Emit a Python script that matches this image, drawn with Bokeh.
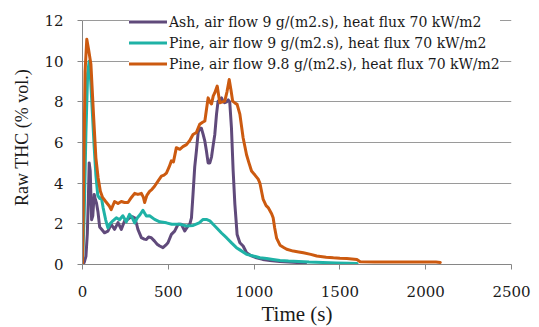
from bokeh.plotting import figure
from bokeh.models import Legend, LegendItem, FixedTicker
from bokeh.embed import file_html
from bokeh.resources import INLINE

# ---- data ----
ash_t = [0, 10, 20, 28, 34, 39, 45, 53, 60, 68, 75, 82, 90, 100, 110, 128, 148, 167, 187, 207,
         226, 245, 260, 275, 290, 304, 315, 323, 343, 360, 372, 385, 401, 420, 435, 450, 469, 485,
         498, 518, 537, 557, 576, 596, 615, 625, 635, 644, 654, 664, 674, 683, 693, 703, 713, 722,
         732, 742, 752, 762, 771, 781, 790, 800, 810, 820, 829, 839, 849, 858, 868, 878, 888, 901,
         917, 936, 956, 985, 1014, 1050, 1092, 1150, 1200, 1250, 1300]
ash_v = [0, 0.1, 0.4, 1.5, 3.2, 5.0, 4.6, 2.2, 2.4, 3.45, 3.2, 3.0, 2.6, 1.85, 1.75, 1.56, 1.64,
         1.98, 1.73, 2.06, 1.73, 2.14, 2.2, 2.3, 2.35, 2.3, 2.0, 1.73, 1.32, 1.25, 1.23, 1.35, 1.32,
         1.15, 1.0, 0.91, 0.83, 0.95, 1.07, 1.48, 1.64, 1.98, 1.98, 1.65, 1.9, 1.98, 2.3, 3.45, 4.8,
         5.6, 6.5, 6.7, 6.7, 6.4, 6.07, 5.6, 5.0, 5.0, 5.3, 5.9, 6.4, 7.4, 8.04, 8.1, 8.2, 8.0, 7.96,
         8.0, 8.1, 8.0, 6.73, 4.6, 2.96, 1.48, 1.07, 0.91, 0.58, 0.42, 0.33, 0.25, 0.2, 0.15, 0.12,
         0.1, 0.08]

pine9_t = [0, 10, 20, 30, 39, 48, 58, 68, 78, 89, 100, 110, 120, 135, 148, 160, 177, 197, 216,
           235, 255, 274, 290, 304, 320, 335, 352, 372, 391, 420, 450, 489, 520, 567, 606, 645,
           680, 703, 722, 742, 761, 781, 810, 839, 870, 897, 917, 956, 995, 1034, 1073, 1110,
           1151, 1200, 1260, 1320, 1400, 1480, 1550, 1600]
pine9_v = [0, 2.5, 6.5, 9.4, 10.0, 9.0, 7.4, 5.8, 4.4, 3.4, 3.25, 3.3, 2.8, 2.2, 1.8, 2.0, 2.15,
           2.3, 2.2, 2.4, 2.1, 2.47, 2.3, 2.05, 2.3, 2.45, 2.67, 2.39, 2.4, 2.22, 2.1, 2.05, 1.98,
           1.98, 1.9, 1.92, 2.05, 2.22, 2.22, 2.15, 1.98, 1.81, 1.55, 1.32, 1.05, 0.83, 0.72, 0.5,
           0.42, 0.33, 0.29, 0.25, 0.2, 0.17, 0.15, 0.12, 0.1, 0.08, 0.06, 0.05]

pine98_t = [0, 8, 15, 25, 35, 49, 64, 78, 91, 104, 117, 135, 156, 167, 187, 207, 226, 245, 265,
            285, 304, 323, 343, 355, 362, 375, 391, 405, 420, 440, 460, 475, 489, 505, 518, 530,
            547, 567, 585, 606, 625, 644, 664, 683, 700, 713, 722, 732, 742, 752, 762, 771, 785,
            800, 815, 829, 842, 855, 865, 875, 888, 901, 917, 936, 956, 970, 985, 1005, 1024,
            1034, 1053, 1070, 1082, 1102, 1111, 1120, 1131, 1151, 1170, 1190, 1228, 1260, 1287,
            1330, 1365, 1420, 1462, 1500, 1540, 1599, 1618, 1700, 1800, 1900, 2000, 2060, 2085]
pine98_v = [0, 5.0, 9.5, 11.08, 10.6, 9.85, 7.4, 5.25, 4.27, 3.6, 3.3, 3.1, 2.88, 2.7, 3.1, 3.0,
            3.1, 3.05, 3.05, 3.3, 3.5, 3.45, 3.5, 3.3, 3.05, 3.4, 3.6, 3.7, 3.85, 4.1, 4.35, 4.4,
            4.5, 4.8, 5.1, 5.05, 5.75, 5.67, 5.8, 5.9, 6.1, 6.4, 6.5, 6.9, 7.0, 7.06, 7.6, 8.2,
            8.0, 7.9, 8.3, 8.45, 8.78, 7.96, 8.0, 8.04, 8.5, 9.1, 8.6, 8.04, 7.95, 7.88, 7.4, 6.24,
            5.4, 5.0, 4.6, 4.4, 4.2, 4.0, 3.2, 2.9, 2.8, 2.5, 2.3, 1.8, 1.3, 0.95, 0.85, 0.75,
            0.66, 0.62, 0.58, 0.5, 0.42, 0.36, 0.33, 0.31, 0.3, 0.25, 0.14, 0.12, 0.12, 0.12,
            0.12, 0.12, 0.1]

series_labels = ["Ash, air flow 9 g/(m2.s), heat flux 70 kW/m2",
                 "Pine, air flow 9 g/(m2.s), heat flux 70 kW/m2",
                 "Pine, air flow 9.8 g/(m2.s), heat flux 70 kW/m2"]
series_colors = ["#604A7B", "#1FB2A6", "#CC5A10"]
x_ticks = [0, 500, 1000, 1500, 2000, 2500]
y_ticks = [0, 2, 4, 6, 8, 10, 12]

TICK_FONT = "DejaVu Serif"
LABEL_FONT = "Liberation Serif"

p = figure(frame_width=429, frame_height=254, x_range=(0, 2500), y_range=(0, 12.5),
           min_border_left=82, min_border_top=10, min_border_right=28, min_border_bottom=63,
           output_backend="svg", toolbar_location=None, background_fill_color="white",
           border_fill_color="white")
p.outline_line_color = None

renderers = []
for t, v, c in zip([ash_t, pine9_t, pine98_t], [ash_v, pine9_v, pine98_v], series_colors):
    r = p.line(t, v, line_color=c, line_width=3, line_join="round", line_cap="round")
    renderers.append(r)

for ax in (p.xaxis[0], p.yaxis[0]):
    ax.axis_line_color = "#868686"
    ax.major_tick_line_color = "#868686"
    ax.major_tick_out = 5
    ax.major_tick_in = 0
    ax.minor_tick_line_color = None
    ax.major_label_text_font = TICK_FONT
    ax.major_label_text_font_size = "15px"
    ax.major_label_text_font_style = "normal"
    ax.major_label_text_color = "#1a1a1a"
    ax.axis_label_text_font = LABEL_FONT
    ax.axis_label_text_font_style = "normal"
    ax.axis_label_text_color = "#1a1a1a"

p.xaxis[0].ticker = FixedTicker(ticks=x_ticks)
p.yaxis[0].ticker = FixedTicker(ticks=y_ticks)
p.yaxis[0].bounds = (0, 12)
p.xaxis[0].axis_label = "Time (s)"
p.xaxis[0].axis_label_text_font_size = "21px"
p.xaxis[0].major_label_standoff = 16
p.xaxis[0].axis_label_standoff = 2
p.yaxis[0].axis_label = "Raw THC (% vol.)"
p.yaxis[0].axis_label_text_font_size = "18px"
p.yaxis[0].major_label_standoff = 14
p.yaxis[0].axis_label_standoff = 9

p.xgrid.grid_line_color = None
p.ygrid.grid_line_color = "#9a9a9a"
p.ygrid.grid_line_width = 1

legend = Legend(items=[LegendItem(label=l, renderers=[r]) for l, r in zip(series_labels, renderers)],
                location=(47, 190), padding=3, margin=0, spacing=0,
                glyph_width=38, glyph_height=21, label_height=21, label_standoff=2,
                label_text_font=TICK_FONT, label_text_font_style="normal",
                label_text_font_size="14px", label_text_color="#1a1a1a",
                background_fill_color="white", background_fill_alpha=1.0,
                border_line_color=None)
p.add_layout(legend, "center")

open("out.html", "w").write(file_html(p, INLINE))
